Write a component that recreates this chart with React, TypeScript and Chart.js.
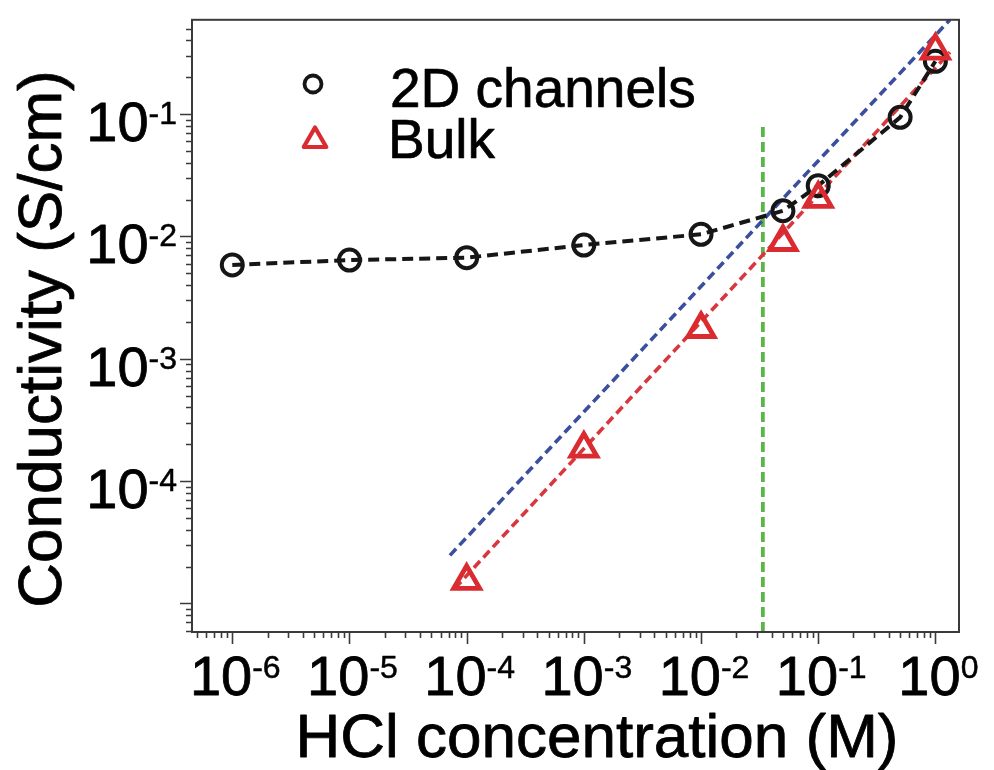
import { useEffect, useRef } from 'react';
import { Chart, registerables } from 'chart.js';

Chart.register(...registerables);

// HCl concentration (M) and conductivity (S/cm)
const concentration2D = [1e-6, 1e-5, 1e-4, 1e-3, 1e-2, 0.05, 0.1, 0.5, 1];
const conductivity2D = [5.85e-3, 6.4e-3, 6.7e-3, 8.5e-3, 1.04e-2, 1.62e-2, 2.6e-2, 9.4e-2, 0.27];

const concentrationBulk = [1e-4, 1e-3, 1e-2, 0.05, 0.1, 1];
const conductivityBulk = [1.53e-5, 1.84e-4, 1.75e-3, 9.0e-3, 2.03e-2, 0.33];

// dashed guide lines (end points)
const bulkFitX = [7.94e-5, 1.33];
const bulkFitY = [1.33e-5, 0.32];
const channelFitX = [7.2e-5, 1.33];
const channelFitY = [2.47e-5, 0.59];
const transitionX = 0.0337;
const transitionTopY = 0.082;

// axis limits and labelled decades
const X_MIN = 4.53e-7;
const X_MAX = 1.59;
const Y_MIN = 5.84e-6;
const Y_MAX = 0.5895;
const xLabelExponents = [-6, -5, -4, -3, -2, -1, 0];
const yLabelExponents = [-1, -2, -3, -4];

const xTitle = 'HCl concentration (M)';
const yTitle = 'Conductivity (S/cm)';
const legendLabels = ['2D channels', 'Bulk'];

const FONT = '"Liberation Sans", Arial, Helvetica, sans-serif';
const RED = '#d92b30';
const RED_LINE = '#d8383d';
const BLUE_LINE = '#3b4f9e';
const GREEN_LINE = '#5cb54b';
const BLACK = '#161616';

const zip = (xs: number[], ys: number[]) => xs.map((x, i) => ({ x, y: ys[i] }));

// filled text with a thin outline so the strokes read a little heavier
function heavyText(ctx: CanvasRenderingContext2D, text: string, x: number, y: number, weight = 0.7) {
  ctx.fillText(text, x, y);
  ctx.lineWidth = weight;
  ctx.lineJoin = 'round';
  ctx.strokeText(text, x, y);
}

function drawPower(ctx: CanvasRenderingContext2D, exp: number, x: number, baseline: number, align: 'center' | 'right') {
  const base = '10';
  const sup = String(exp);
  ctx.font = `56px ${FONT}`;
  const wb = ctx.measureText(base).width;
  ctx.font = `32px ${FONT}`;
  const ws = ctx.measureText(sup).width;
  const total = wb + ws;
  const left = align === 'center' ? x - total / 2 : x - total;
  ctx.textAlign = 'left';
  ctx.textBaseline = 'alphabetic';
  ctx.font = `56px ${FONT}`;
  heavyText(ctx, base, left, baseline, 0.8);
  ctx.font = `32px ${FONT}`;
  heavyText(ctx, sup, left + wb, baseline - 17, 0.5);
}

const axesPlugin = {
  id: 'boxedLogAxes',
  afterDatasetsDraw(chart: any) {
    const { ctx, chartArea: a, scales } = chart;
    const xs = scales.x;
    const ys = scales.y;
    ctx.save();

    // plot frame
    ctx.strokeStyle = '#3a3a3a';
    ctx.lineWidth = 2;
    ctx.strokeRect(a.left, a.top, a.right - a.left, a.bottom - a.top);

    // outward tick marks, longer at each decade
    ctx.lineWidth = 1.6;
    ctx.beginPath();
    for (let e = -8; e <= 1; e++) {
      for (let m = 1; m <= 9; m++) {
        const v = m * Math.pow(10, e);
        const len = m === 1 ? 12 : 6;
        if (v >= X_MIN && v <= X_MAX) {
          const px = Math.round(xs.getPixelForValue(v)) + 0.5;
          ctx.moveTo(px, a.bottom);
          ctx.lineTo(px, a.bottom + len);
        }
        if (v >= Y_MIN && v <= Y_MAX) {
          const py = Math.round(ys.getPixelForValue(v)) + 0.5;
          ctx.moveTo(a.left, py);
          ctx.lineTo(a.left - len, py);
        }
      }
    }
    ctx.stroke();

    // tick labels
    ctx.fillStyle = '#000';
    ctx.strokeStyle = '#000';
    xLabelExponents.forEach((e) => {
      const px = xs.getPixelForValue(Math.pow(10, e));
      drawPower(ctx, e, px + 3, a.bottom + 63, 'center');
    });
    yLabelExponents.forEach((e) => {
      const py = ys.getPixelForValue(Math.pow(10, e));
      drawPower(ctx, e, a.left - 15, py + 27, 'right');
    });

    // axis titles
    ctx.font = `62px ${FONT}`;
    ctx.textAlign = 'center';
    ctx.textBaseline = 'alphabetic';
    heavyText(ctx, xTitle, 597, 757, 0.8);
    ctx.save();
    ctx.translate(61, 339);
    ctx.rotate(-Math.PI / 2);
    heavyText(ctx, yTitle, 0, 0, 0.8);
    ctx.restore();

    // legend
    ctx.strokeStyle = BLACK;
    ctx.lineWidth = 3.8;
    ctx.beginPath();
    ctx.arc(313, 84, 8.5, 0, Math.PI * 2);
    ctx.stroke();

    const r = 13;
    const cx = 315;
    const cy = 140.5;
    ctx.strokeStyle = RED;
    ctx.lineWidth = 4.2;
    ctx.beginPath();
    for (let i = 0; i < 3; i++) {
      const ang = (i * 2 * Math.PI) / 3;
      const px = cx + Math.sin(ang) * r;
      const py = cy - Math.cos(ang) * r;
      if (i === 0) ctx.moveTo(px, py);
      else ctx.lineTo(px, py);
    }
    ctx.closePath();
    ctx.stroke();

    ctx.fillStyle = '#000';
    ctx.strokeStyle = '#000';
    ctx.font = `55px ${FONT}`;
    ctx.textAlign = 'left';
    heavyText(ctx, legendLabels[0], 390, 107, 0.7);
    heavyText(ctx, legendLabels[1], 388, 158, 0.7);

    ctx.restore();
  },
};

export default function App() {
  const canvasRef = useRef<HTMLCanvasElement | null>(null);

  useEffect(() => {
    if (!canvasRef.current) return;
    const chart = new Chart(canvasRef.current, {
      type: 'line',
      data: {
        datasets: [
          {
            label: legendLabels[1],
            data: zip(concentrationBulk, conductivityBulk),
            showLine: false,
            pointStyle: 'triangle',
            pointRadius: 15,
            pointBorderWidth: 4.8,
            pointBorderColor: RED,
            pointBackgroundColor: 'rgba(0,0,0,0)',
            borderColor: RED,
          },
          {
            label: legendLabels[0],
            data: zip(concentration2D, conductivity2D),
            borderColor: BLACK,
            borderWidth: 4,
            borderDash: [11, 6],
            tension: 0,
            pointStyle: 'circle',
            pointRadius: 10.5,
            pointBorderWidth: 4,
            pointBorderColor: BLACK,
            pointBackgroundColor: 'rgba(0,0,0,0)',
          },
          {
            label: 'bulk fit',
            data: zip(bulkFitX, bulkFitY),
            borderColor: RED_LINE,
            borderWidth: 3.6,
            borderDash: [9, 5],
            pointRadius: 0,
          },
          {
            label: 'channel fit',
            data: zip(channelFitX, channelFitY),
            borderColor: BLUE_LINE,
            borderWidth: 3.6,
            borderDash: [9, 5],
            pointRadius: 0,
          },
          {
            label: 'transition',
            data: [
              { x: transitionX, y: Y_MIN },
              { x: transitionX, y: transitionTopY },
            ],
            borderColor: GREEN_LINE,
            borderWidth: 3.8,
            borderDash: [10, 5],
            pointRadius: 0,
          },
        ],
      },
      options: {
        animation: false,
        responsive: true,
        maintainAspectRatio: false,
        events: [],
        layout: { padding: { left: 192, top: 15, right: 35, bottom: 138 } },
        plugins: {
          legend: { display: false },
          tooltip: { enabled: false },
        },
        scales: {
          x: { type: 'logarithmic', min: X_MIN, max: X_MAX, display: false },
          y: { type: 'logarithmic', min: Y_MIN, max: Y_MAX, display: false },
        },
      },
      plugins: [axesPlugin],
    } as any);
    return () => chart.destroy();
  }, []);

  return (
    <div style={{ position: 'absolute', left: 0, top: 0, width: 994, height: 770, background: '#fff' }}>
      <canvas ref={canvasRef} />
    </div>
  );
}
